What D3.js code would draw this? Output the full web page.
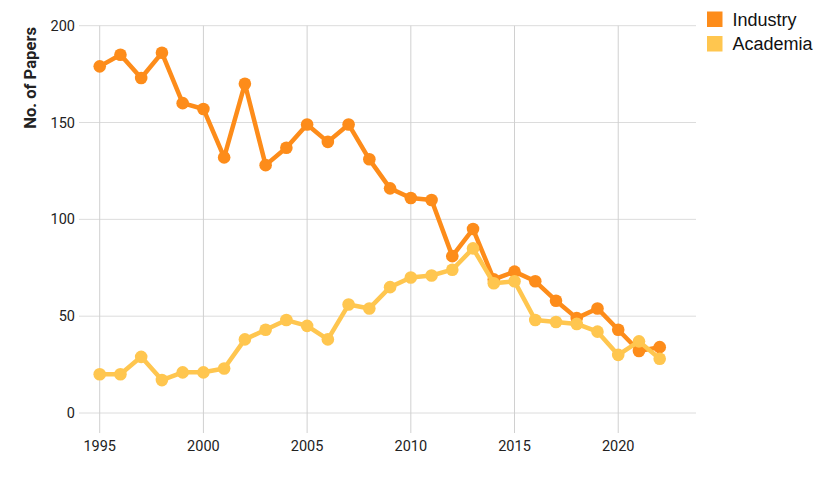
<!DOCTYPE html>
<html><head><meta charset="utf-8">
<script src="https://cdn.jsdelivr.net/npm/d3@7"></script>
<style>body{margin:0;background:#fff}svg{display:block}</style>
</head><body>
<svg id="c" width="826" height="481"></svg>
<script>
const years = [1995,1996,1997,1998,1999,2000,2001,2002,2003,2004,2005,2006,2007,2008,2009,2010,2011,2012,2013,2014,2015,2016,2017,2018,2019,2020,2021,2022];
const industry = [179,185,173,186,160,157,132,170,128,137,149,140,149,131,116,111,110,81,95,69,73,68,58,49,54,43,32,34];
const academia = [20,20,29,17,21,21,23,38,43,48,45,38,56,54,65,70,71,74,85,67,68,48,47,46,42,30,37,28];
const xTicks = [1995,2000,2005,2010,2015,2020];
const yTicks = [0,50,100,150,200];
const seriesNames = ["Industry","Academia"];
const colors = ["#FD8C1A","#FFC64F"];

const svg = d3.select("#c");
const x = d3.scaleLinear().domain([1994.05,2023.75]).range([80,696]);
const y = d3.scaleLinear().domain([0,200]).range([413,25.7]);

// horizontal grid
svg.append("g").selectAll("line").data(yTicks).join("line")
  .attr("x1",79).attr("x2",696).attr("y1",d=>y(d)).attr("y2",d=>y(d))
  .attr("stroke","#dcdcdc").attr("stroke-width",1);
// vertical grid
svg.append("g").selectAll("line").data(xTicks).join("line")
  .attr("x1",d=>x(d)).attr("x2",d=>x(d)).attr("y1",y(200)).attr("y2",433)
  .attr("stroke","#d0d0d0").attr("stroke-width",1);

// y labels
svg.append("g").selectAll("text").data(yTicks).join("text")
  .attr("x",75).attr("y",d=>y(d)).attr("dy","0.35em").attr("text-anchor","end")
  .attr("font-family","Roboto, sans-serif").attr("font-size",14.5).attr("fill","#222")
  .text(d=>d);
// x labels
svg.append("g").selectAll("text").data(xTicks).join("text")
  .attr("x",d=>x(d)).attr("y",446).attr("dy","0.35em").attr("text-anchor","middle")
  .attr("font-family","Roboto, sans-serif").attr("font-size",14.5).attr("fill","#222")
  .text(d=>d);

// y title
svg.append("text").attr("transform","translate(35.5,27) rotate(-90)")
  .attr("text-anchor","end").attr("font-family","Roboto, sans-serif")
  .attr("font-weight","bold").attr("font-size",16.6).attr("fill","#222")
  .text("No. of Papers");

const line = d3.line().x((d,i)=>x(years[i])).y(d=>y(d));
[industry, academia].forEach((vals,k)=>{
  const g = svg.append("g");
  g.append("path").datum(vals).attr("d",line).attr("fill","none")
    .attr("stroke",colors[k]).attr("stroke-width",4.5).attr("stroke-linejoin","round");
  g.selectAll("circle").data(vals).join("circle")
    .attr("cx",(d,i)=>x(years[i])).attr("cy",d=>y(d)).attr("r",6.3).attr("fill",colors[k]);
});

// legend
const lg = svg.append("g").selectAll("g").data(seriesNames).join("g")
  .attr("transform",(d,i)=>`translate(707,${11.5+i*24.5})`);
lg.append("rect").attr("width",15.5).attr("height",15.5).attr("fill",(d,i)=>colors[i]);
lg.append("text").attr("x",25.5).attr("y",8).attr("dy","0.35em")
  .attr("font-family","'Liberation Sans', Arial, sans-serif").attr("font-size",18).attr("fill","#111")
  .text(d=>d);
</script>
</body></html>
